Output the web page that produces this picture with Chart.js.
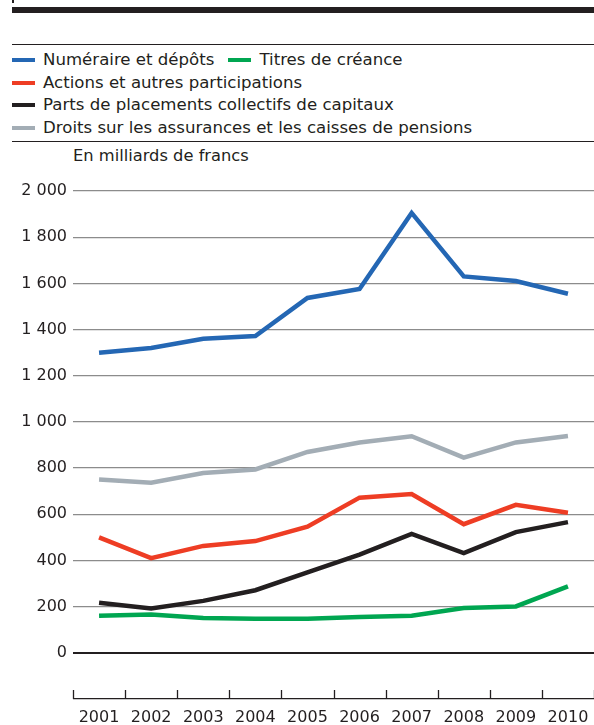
<!DOCTYPE html>
<html>
<head>
<meta charset="utf-8">
<script src="https://cdn.jsdelivr.net/npm/chart.js@4"></script>
<style>
  html, body { margin: 0; padding: 0; background: #fff; }
  body { width: 594px; height: 725px; position: relative; overflow: hidden;
         font-family: "DejaVu Sans", sans-serif; color: #231f20; }
  .rule { position: absolute; left: 12px; right: 0; background: #231f20; }
  #legend { position: absolute; left: 12px; top: 49px; font-size: 16.6px; line-height: 22.5px; }
  .row { display: flex; white-space: nowrap; }
  .item { display: flex; align-items: center; margin-right: 14px; }
  .swatch { width: 23px; height: 4px; margin-right: 8px; }
  #unit { position: absolute; left: 73px; top: 146px; font-size: 16.3px; }
  #wrap { position: absolute; left: 0; top: 160px; width: 594px; height: 565px; }
</style>
</head>
<body>
<div class="rule" style="top:0;width:2px;height:3px;right:auto"></div>
<div class="rule" style="top:7px;height:6px"></div>
<div class="rule" style="top:44px;height:1.3px"></div>
<div id="legend"></div>
<div class="rule" style="top:141px;height:1.3px"></div>
<div id="unit">En milliards de francs</div>
<div id="wrap"><canvas id="chart"></canvas></div>
<script>
const years = ['2001', '2002', '2003', '2004', '2005', '2006', '2007', '2008', '2009', '2010'];

const numeraire = [1300, 1320, 1360, 1372, 1537, 1576, 1905, 1630, 1610, 1555];
const titres = [160, 166, 151, 148, 148, 155, 161, 194, 201, 288];
const actions = [500, 410, 463, 484, 546, 672, 688, 557, 641, 607];
const parts = [217, 192, 225, 271, 348, 425, 515, 432, 523, 566];
const droits = [751, 737, 779, 794, 870, 911, 938, 845, 911, 939];

const seriesNames = [
    'Numéraire et dépôts',
    'Titres de créance',
    'Actions et autres participations',
    'Parts de placements collectifs de capitaux',
    'Droits sur les assurances et les caisses de pensions'
];
const seriesColors = ['#2467b4', '#00a651', '#ee3d24', '#231f20', '#a3adb5'];
const legendRows = [[0, 1], [2], [3], [4]];

const yMin = -200, yMax = 2000, yStep = 200;

// legend as html
const legendEl = document.getElementById('legend');
legendRows.forEach(function(row) {
    const rowEl = document.createElement('div');
    rowEl.className = 'row';
    row.forEach(function(i) {
        const item = document.createElement('div');
        item.className = 'item';
        const sw = document.createElement('span');
        sw.className = 'swatch';
        sw.style.background = seriesColors[i];
        item.appendChild(sw);
        item.appendChild(document.createTextNode(seriesNames[i]));
        rowEl.appendChild(item);
    });
    legendEl.appendChild(rowEl);
});

// short tick marks on the x axis, between the years
const boundaryTicks = {
    id: 'boundaryTicks',
    afterDraw(chart) {
        const x = chart.scales.x;
        const y = chart.scales.y;
        const ctx = chart.ctx;
        const base = y.getPixelForValue(yMin);
        ctx.save();
        ctx.strokeStyle = '#231f20';
        ctx.lineWidth = 1.3;
        for (let i = 0; i <= years.length; i++) {
            const px = Math.round(x.getPixelForValue(i - 0.5)) + 0.5;
            ctx.beginPath();
            ctx.moveTo(px, base);
            ctx.lineTo(px, base - 9);
            ctx.stroke();
        }
        ctx.restore();
    }
};

const data = [numeraire, titres, actions, parts, droits];

new Chart(document.getElementById('chart'), {
    type: 'line',
    data: {
        labels: years,
        datasets: data.map(function(values, i) {
            return {
                label: seriesNames[i],
                data: values,
                borderColor: seriesColors[i],
                backgroundColor: seriesColors[i],
                borderWidth: 4.5,
                pointRadius: 0,
                tension: 0,
                borderCapStyle: 'butt'
            };
        })
    },
    options: {
        responsive: true,
        maintainAspectRatio: false,
        animation: false,
        layout: { padding: { top: 31, left: 0, right: 0, bottom: 0 } },
        plugins: {
            legend: { display: false },
            tooltip: { enabled: false }
        },
        scales: {
            x: {
                offset: true,
                grid: { display: false },
                border: { display: false },
                ticks: {
                    color: '#231f20',
                    font: { family: 'DejaVu Sans', size: 16 },
                    padding: 1,
                    maxRotation: 0
                },
                afterFit(scale) { scale.height = 26; }
            },
            y: {
                min: yMin,
                max: yMax,
                border: { display: false },
                grid: {
                    drawTicks: false,
                    color(ctx) {
                        const v = ctx.tick && ctx.tick.value;
                        if (v === 0 || v === yMin) return '#231f20';
                        return '#8c8c8c';
                    },
                    lineWidth(ctx) {
                        const v = ctx.tick && ctx.tick.value;
                        if (v === 0) return 2;
                        if (v === yMin) return 1.3;
                        return 1.2;
                    }
                },
                ticks: {
                    stepSize: yStep,
                    color: '#231f20',
                    font: { family: 'DejaVu Sans', size: 16 },
                    padding: 6,
                    callback(value) {
                        if (value < 0) return '';
                        return value >= 1000
                            ? Math.floor(value / 1000) + ' ' + String(value % 1000).padStart(3, '0')
                            : String(value);
                    }
                },
                afterFit(scale) { scale.width = 73; }
            }
        }
    },
    plugins: [boundaryTicks]
});
</script>
</body>
</html>
